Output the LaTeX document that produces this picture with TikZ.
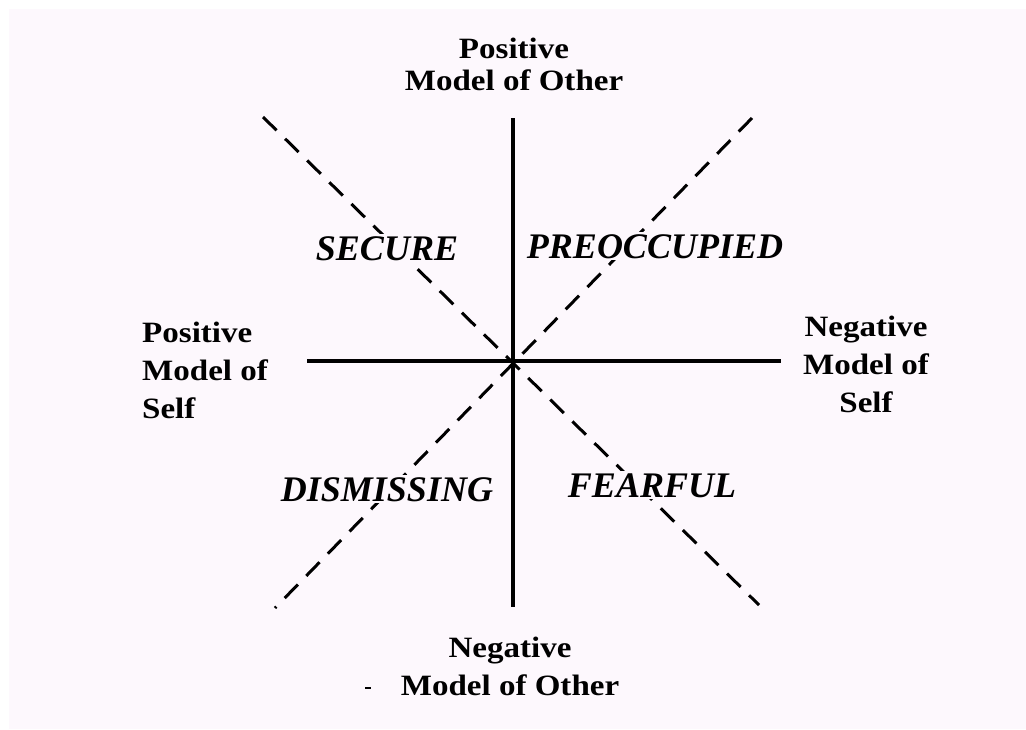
\documentclass[tikz,border=0pt]{standalone}
\usepackage{fontspec}
\setmainfont{Liberation Serif}
\newfontfamily\labfont[FakeStretch=1.12]{Liberation Serif}
\definecolor{bgpink}{RGB}{253,248,253}
\tikzset{
  axisline/.style={line width=3.2pt, black},
  diagline/.style={line width=3pt, black, dash pattern=on 19pt off 12pt},
  axislabel/.style={inner sep=0pt, font=\labfont\bfseries\fontsize{29.5}{38}\selectfont},
  stylelabel/.style={inner sep=2pt, fill=bgpink, anchor=base, font=\bfseries\itshape\fontsize{36}{40}\selectfont}
}
\begin{document}
\begin{tikzpicture}[x=1pt,y=-1pt]
\useasboundingbox (0,0) rectangle (1026,729);
\fill[white] (0,0) rectangle (1026,729);
\fill[bgpink] (9,9) rectangle (1026,729);
% axis end points
\coordinate (vtop) at (513,118);
\coordinate (vbot) at (513,607);
\coordinate (hleft) at (307,361);
\coordinate (hright) at (781,361);
\coordinate (dnw) at (263,117);
\coordinate (dse) at (759,605);
\coordinate (dne) at (752,118);
\coordinate (dsw) at (275,608);
\draw[diagline] (dnw) -- (dse);
\draw[diagline] (dne) -- (dsw);
% quadrant labels (mask the dashed lines behind them)
\node[stylelabel] (secure) at (387,260) {SECURE};
\node[stylelabel] (preocc) at (655,258) {PREOCCUPIED};
\node[stylelabel] (dismiss) at (387,501) {DISMISSING};
\node[stylelabel] (fearful) at (652,497) {FEARFUL};
\draw[axisline] (vtop) -- (vbot);
\draw[axisline] (hleft) -- (hright);
% axis labels
\node[axislabel, align=center, anchor=base, font=\labfont\bfseries\fontsize{29.5}{32}\selectfont] (top) at (514,90) {Positive\\Model of Other};
\node[axislabel, align=left, anchor=base west] (left) at (142,418) {Positive\\Model of\\Self};
\node[axislabel, align=center, anchor=base] (right) at (866,412) {Negative\\Model of\\Self};
\node[axislabel, align=center, anchor=base] (bottom) at (510,695) {Negative\\Model of Other};
% small stray mark
\coordinate (m1) at (365,688);
\coordinate (m2) at (371,688);
\draw[line width=1.5pt] (m1) -- (m2);
\end{tikzpicture}
\end{document}
